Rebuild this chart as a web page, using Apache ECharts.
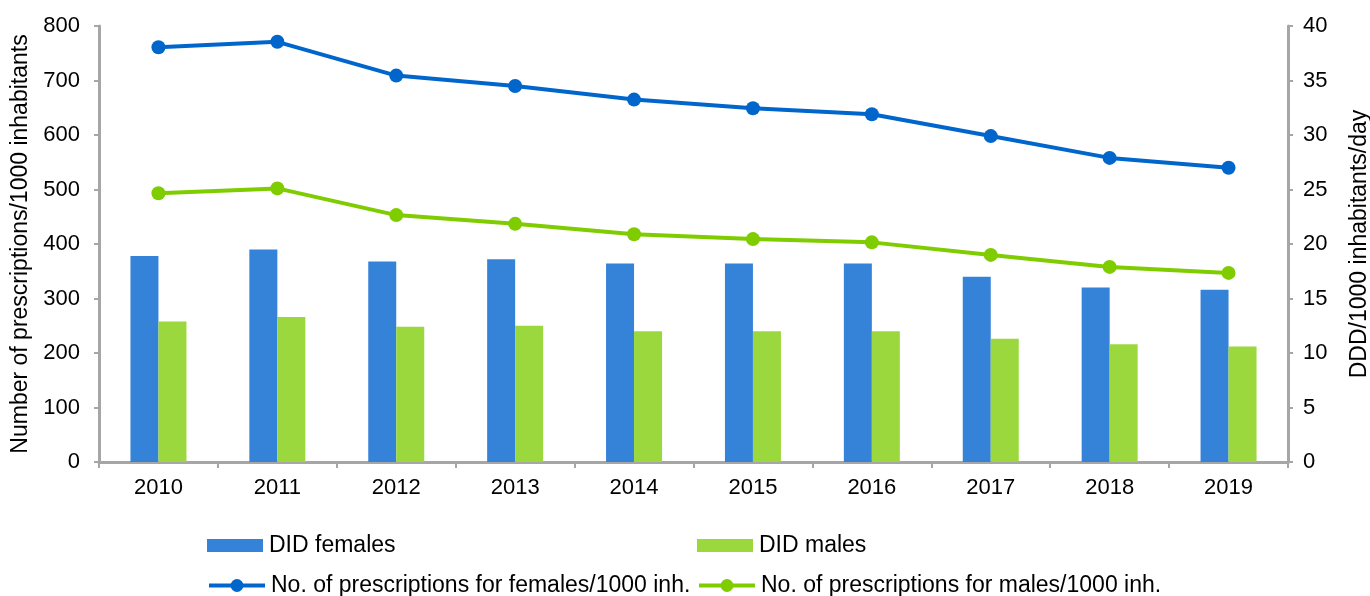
<!DOCTYPE html>
<html>
<head>
<meta charset="utf-8">
<script src="https://cdn.jsdelivr.net/npm/echarts@6/dist/echarts.min.js"></script>
<style>
  html, body { margin: 0; padding: 0; background: #fff; }
  #chart { width: 1370px; height: 596px; }
</style>
</head>
<body>
<div id="chart"></div>
<script>
// data
var years = ["2010", "2011", "2012", "2013", "2014", "2015", "2016", "2017", "2018", "2019"];
var didFemales = [18.9, 19.5, 18.4, 18.6, 18.2, 18.2, 18.2, 17.0, 16.0, 15.8];
var didMales = [12.9, 13.3, 12.4, 12.5, 12.0, 12.0, 12.0, 11.3, 10.8, 10.6];
var rxFemales = [761, 771, 709, 690, 665, 649, 638, 598, 558, 540];
var rxMales = [493, 502, 453, 437, 418, 409, 403, 380, 358, 347];

var font = "Liberation Sans, Arial, sans-serif";
var axisGrey = "#A6A6A6";

var el = document.getElementById("chart");
var myChart = echarts.init(el);

var legendText = { fontFamily: font, fontSize: 23, color: "#000", padding: [0, 0, 0, 1] };
var tickText = { fontFamily: font, fontSize: 22, color: "#000" };
var nameText = { fontFamily: font, fontSize: 23, color: "#000" };

var option = {
  animation: false,
  grid: { left: 99, right: 82, top: 26, bottom: 134, outerBoundsMode: "none", containLabel: false },
  legend: [
    { left: 207, top: 534, padding: 0, itemWidth: 56, itemHeight: 13, itemGap: 0, icon: "rect", textStyle: legendText, data: ["DID females"] },
    { left: 697, top: 534, padding: 0, itemWidth: 56, itemHeight: 13, itemGap: 0, icon: "rect", textStyle: legendText, data: ["DID males"] },
    { left: 207, top: 574, padding: 0, itemWidth: 56, itemHeight: 16, itemGap: 0, lineStyle: { width: 4 }, textStyle: legendText, data: ["No. of prescriptions for females/1000 inh."] },
    { left: 697, top: 574, padding: 0, itemWidth: 56, itemHeight: 16, itemGap: 0, lineStyle: { width: 4 }, textStyle: legendText, data: ["No. of prescriptions for males/1000 inh."] }
  ],
  xAxis: {
    type: "category",
    data: years,
    boundaryGap: true,
    axisLine: { lineStyle: { color: axisGrey, width: 3 } },
    axisTick: { show: true, length: 6, lineStyle: { color: axisGrey, width: 2 } },
    axisLabel: { ...tickText, margin: 15 }
  },
  yAxis: [
    {
      type: "value",
      min: 0,
      max: 800,
      interval: 100,
      name: "Number of prescriptions/1000 inhabitants",
      nameLocation: "middle",
      nameGap: 67,
      nameTextStyle: nameText,
      axisLine: { show: true, lineStyle: { color: axisGrey, width: 3 } },
      axisTick: { show: true, length: 5, lineStyle: { color: axisGrey, width: 2 } },
      axisLabel: { ...tickText, margin: 19 },
      splitLine: { show: false }
    },
    {
      type: "value",
      min: 0,
      max: 40,
      interval: 5,
      name: "DDD/1000 inhabitants/day",
      nameLocation: "middle",
      nameGap: 60,
      nameTextStyle: nameText,
      axisLine: { show: true, lineStyle: { color: axisGrey, width: 3 } },
      axisTick: { show: true, length: 5, lineStyle: { color: axisGrey, width: 2 } },
      axisLabel: { ...tickText, margin: 15 },
      splitLine: { show: false }
    }
  ],
  series: [
    {
      name: "DID females",
      type: "bar",
      yAxisIndex: 1,
      barWidth: 28,
      barGap: "0%",
      itemStyle: { color: "#3483D9" },
      data: didFemales
    },
    {
      name: "DID males",
      type: "bar",
      yAxisIndex: 1,
      barWidth: 28,
      barGap: "0%",
      itemStyle: { color: "#9AD83D" },
      data: didMales
    },
    {
      name: "No. of prescriptions for females/1000 inh.",
      type: "line",
      yAxisIndex: 0,
      symbol: "circle",
      symbolSize: 14,
      lineStyle: { color: "#0066CC", width: 4 },
      itemStyle: { color: "#0066CC" },
      data: rxFemales
    },
    {
      name: "No. of prescriptions for males/1000 inh.",
      type: "line",
      yAxisIndex: 0,
      symbol: "circle",
      symbolSize: 14,
      lineStyle: { color: "#7FCC00", width: 4 },
      itemStyle: { color: "#7FCC00" },
      data: rxMales
    }
  ]
};
myChart.setOption(option);
</script>
</body>
</html>
